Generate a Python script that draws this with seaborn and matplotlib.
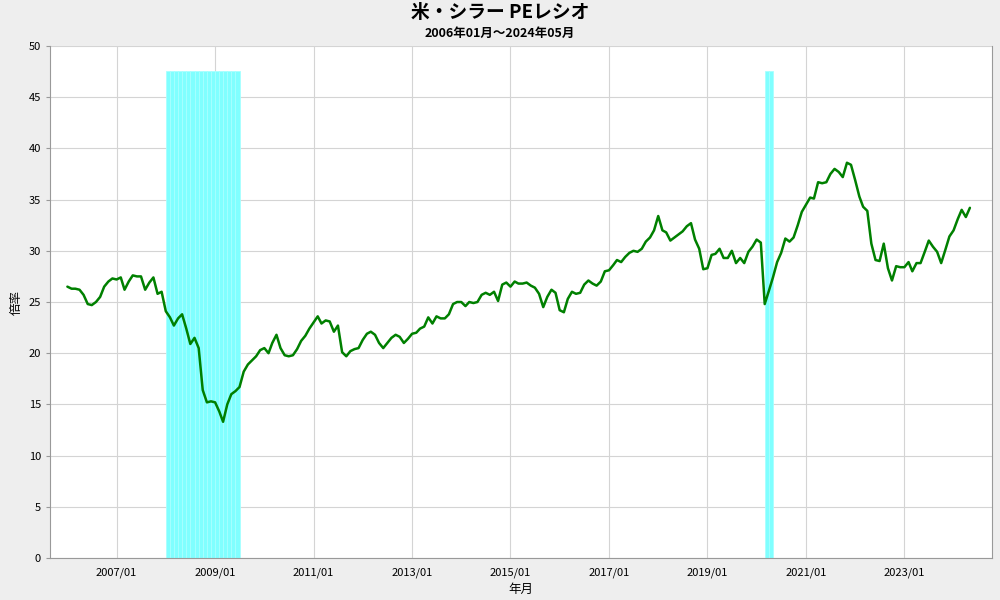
import pandas as pd
import matplotlib
matplotlib.use('Agg')
import matplotlib.pyplot as plt
import seaborn as sns

# Shiller PE ratio, monthly 2006/01 - 2024/05
pe_2006 = [26.5, 26.3, 26.3, 26.2, 25.7, 24.8, 24.7, 25.0, 25.5, 26.5, 27.0, 27.3]
pe_2007 = [27.2, 27.4, 26.2, 27.0, 27.6, 27.5, 27.5, 26.2, 26.9, 27.4, 25.8, 26.0]
pe_2008 = [24.1, 23.5, 22.7, 23.4, 23.8, 22.4, 20.9, 21.5, 20.5, 16.4, 15.2, 15.3]
pe_2009 = [15.2, 14.3, 13.3, 15.0, 16.0, 16.3, 16.7, 18.2, 18.9, 19.3, 19.7, 20.3]
pe_2010 = [20.5, 20.0, 21.0, 21.8, 20.5, 19.8, 19.7, 19.8, 20.4, 21.2, 21.7, 22.4]
pe_2011 = [23.0, 23.6, 22.9, 23.2, 23.1, 22.1, 22.7, 20.1, 19.7, 20.2, 20.4, 20.5]
pe_2012 = [21.3, 21.9, 22.1, 21.8, 21.0, 20.5, 21.0, 21.5, 21.8, 21.6, 21.0, 21.4]
pe_2013 = [21.9, 22.0, 22.4, 22.6, 23.5, 22.9, 23.6, 23.4, 23.4, 23.8, 24.8, 25.0]
pe_2014 = [25.0, 24.6, 25.0, 24.9, 25.0, 25.7, 25.9, 25.7, 26.0, 25.1, 26.7, 26.9]
pe_2015 = [26.5, 27.0, 26.8, 26.8, 26.9, 26.6, 26.4, 25.8, 24.5, 25.5, 26.2, 25.9]
pe_2016 = [24.2, 24.0, 25.3, 26.0, 25.8, 25.9, 26.7, 27.1, 26.8, 26.6, 27.0, 28.0]
pe_2017 = [28.1, 28.6, 29.1, 28.9, 29.4, 29.8, 30.0, 29.9, 30.2, 30.9, 31.3, 32.0]
pe_2018 = [33.4, 32.0, 31.8, 31.0, 31.3, 31.6, 31.9, 32.4, 32.7, 31.1, 30.2, 28.2]
pe_2019 = [28.3, 29.6, 29.7, 30.2, 29.3, 29.3, 30.0, 28.8, 29.3, 28.8, 29.9, 30.4]
pe_2020 = [31.1, 30.8, 24.8, 26.1, 27.4, 28.9, 29.8, 31.2, 30.9, 31.3, 32.5, 33.8]
pe_2021 = [34.5, 35.2, 35.1, 36.7, 36.6, 36.7, 37.5, 38.0, 37.7, 37.2, 38.6, 38.4]
pe_2022 = [36.9, 35.3, 34.3, 33.9, 30.7, 29.1, 29.0, 30.7, 28.3, 27.1, 28.5, 28.4]
pe_2023 = [28.4, 28.9, 28.0, 28.8, 28.8, 29.9, 31.0, 30.4, 29.9, 28.8, 30.1, 31.4]
pe_2024 = [32.0, 33.1, 34.0, 33.3, 34.2]

# recession months (shaded)
recession_months = (list(pd.date_range('2008-01-01', '2009-06-01', freq='MS'))
                    + list(pd.date_range('2020-03-01', '2020-04-01', freq='MS')))
recession_height = 47.6

tick_labels = ['2007/01', '2009/01', '2011/01', '2013/01', '2015/01',
               '2017/01', '2019/01', '2021/01', '2023/01']

title = '米・シラー PEレシオ'
subtitle = '2006年01月～2024年05月'

values = (pe_2006 + pe_2007 + pe_2008 + pe_2009 + pe_2010 + pe_2011 + pe_2012
          + pe_2013 + pe_2014 + pe_2015 + pe_2016 + pe_2017 + pe_2018 + pe_2019
          + pe_2020 + pe_2021 + pe_2022 + pe_2023 + pe_2024)
df = pd.DataFrame({'date': pd.date_range('2006-01-01', periods=len(values), freq='MS'),
                   'pe': values})

sns.set_style('whitegrid')
plt.rcParams['font.family'] = ['Noto Sans CJK JP', 'DejaVu Sans']
plt.rcParams['text.color'] = 'black'
plt.rcParams['axes.labelcolor'] = 'black'
plt.rcParams['xtick.color'] = 'black'
plt.rcParams['ytick.color'] = 'black'

fig = plt.figure(figsize=(10, 6), dpi=100, facecolor='#eeeeee')
ax = fig.add_axes([0.05, 0.07, 0.942, 0.8533])
ax.set_facecolor('white')

# recession bars, one per month
ax.bar(recession_months, [recession_height] * len(recession_months), width=31,
       align='edge', color='#80ffff', edgecolor='#a8ffff', linewidth=0.6, zorder=1)

sns.lineplot(data=df, x='date', y='pe', color='#008000', linewidth=1.8, ax=ax, zorder=3)

ax.set_ylim(0, 50)
ax.set_yticks(range(0, 51, 5))
ax.set_xlim(pd.Timestamp('2005-08-25'), pd.Timestamp('2024-10-12'))
ax.set_xticks([pd.Timestamp(t.replace('/', '-') + '-01') for t in tick_labels])
ax.set_xticklabels(tick_labels)

ax.grid(True, color='#d4d4d4', linewidth=0.8)
ax.set_axisbelow(True)
ax.spines['top'].set_visible(False)
for side in ['left', 'bottom', 'right']:
    ax.spines[side].set_visible(True)
    ax.spines[side].set_color('#999999')
    ax.spines[side].set_linewidth(0.8)
ax.tick_params(axis='both', labelsize=8, length=3, color='#999999', left=True, bottom=False)

ax.set_xlabel('年月', fontsize=9)
ax.set_ylabel('倍率', fontsize=9)

fig.text(0.5, 0.98, title, ha='center', va='center', fontsize=13.5, fontweight='bold')
fig.text(0.5, 0.945, subtitle, ha='center', va='center', fontsize=9, fontweight='bold')

plt.savefig('out.png', dpi=100, facecolor=fig.get_facecolor())
plt.close(fig)
